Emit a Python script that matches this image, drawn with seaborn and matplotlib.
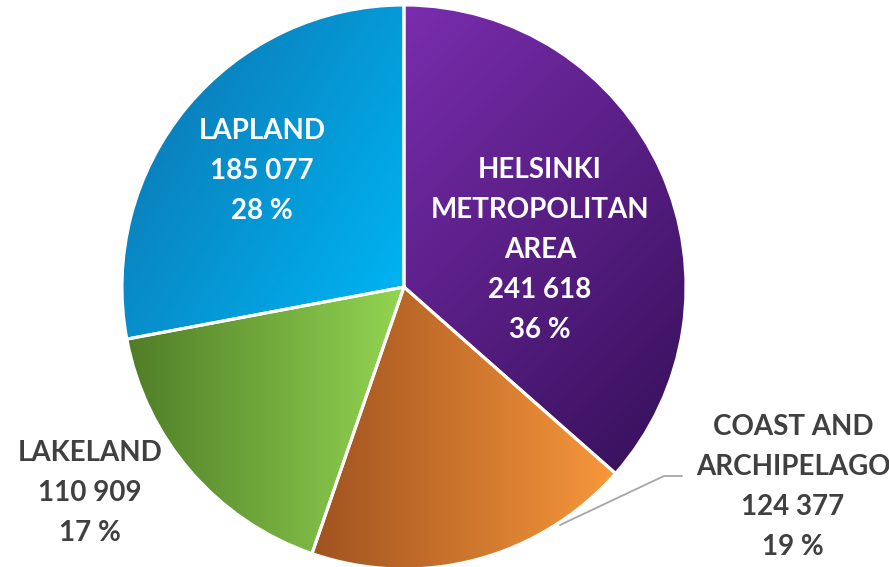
import numpy as np
import matplotlib.pyplot as plt
import seaborn as sns

# data
regions = ["HELSINKI\nMETROPOLITAN\nAREA", "COAST AND\nARCHIPELAGO", "LAKELAND", "LAPLAND"]
values = [241618, 124377, 110909, 185077]
percents = ["36 %", "19 %", "17 %", "28 %"]

# gradient colours per slice (dark end, light end) and gradient direction
dark_colors = ["#7A2DAE", "#A0521F", "#4F7D27", "#0A82BE"]
light_colors = ["#3B1260", "#F8983B", "#93D552", "#00B3F2"]
grad_dirs = [(1, -1), (1, 0), (1, 0), (1, -0.6)]

sns.set_theme(style="white")
plt.rcParams['font.family'] = ['Lato', 'DejaVu Sans']

fig = plt.figure(figsize=(8.89, 5.67), dpi=100)
ax = fig.add_axes([0, 0, 1, 1])

cx, cy, r = 404, 280, 282
wedges, _ = ax.pie(values, startangle=90, counterclock=False,
                   center=(cx, cy), radius=r,
                   wedgeprops=dict(edgecolor="white", linewidth=2.2))

# fill each wedge with a linear gradient
xs = np.linspace(cx - r, cx + r, 400)
ys = np.linspace(cy - r, cy + r, 400)
X, Y = np.meshgrid(xs, ys)
for w, c0, c1, d in zip(wedges, dark_colors, light_colors, grad_dirs):
    d = np.array(d) / np.hypot(*d)
    verts = w.get_path().vertices
    tv = verts[:, 0] * d[0] + verts[:, 1] * d[1]
    T = (X * d[0] + Y * d[1] - tv.min()) / (tv.max() - tv.min())
    cmap = sns.blend_palette([c0, c1], as_cmap=True)
    im = ax.imshow(T, cmap=cmap, vmin=0, vmax=1, origin="lower",
                   extent=(cx - r, cx + r, cy - r, cy + r), zorder=0.5,
                   interpolation="bilinear")
    im.set_clip_path(w)
    w.set_facecolor("none")
    w.set_zorder(1)

ax.set_xlim(0, 889)
ax.set_ylim(0, 567)
ax.set_aspect("equal")
ax.axis("off")

H = 567
fs = 20
ls = 1.66
txt = dict(ha="center", va="center", fontsize=fs, fontweight="bold", linespacing=ls)

def lab(i):
    return f"{regions[i]}\n{values[i]:,}".replace(",", " ") + f"\n{percents[i]}"

ax.text(540, H - 250, lab(0), color="white", **txt)
ax.text(793, H - 487, lab(1), color="#404040", **txt)
ax.text(90, H - 493, lab(2), color="#404040", **txt)
ax.text(262, H - 171, lab(3), color="white", **txt)

# leader line for the coast label
ax.plot([560, 664, 682], [H - 525, H - 476, H - 476], color="#A6A6A6", lw=1.3, zorder=2)

fig.savefig("out.png", dpi=100)
